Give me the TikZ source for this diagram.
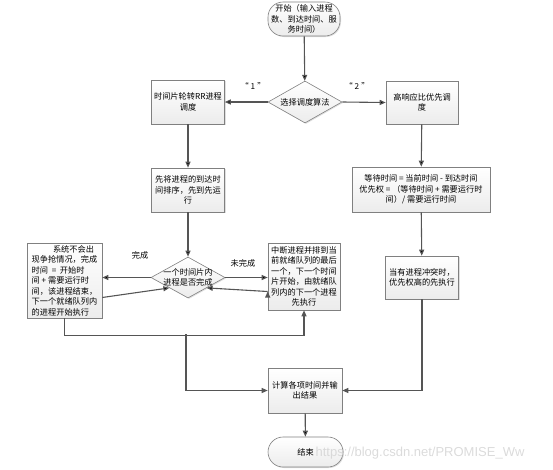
\documentclass[tikz,border=0pt]{standalone}
\usepackage{fontspec}
\newfontfamily\cjk{Noto Sans CJK SC}
\newfontfamily\wmfont{Liberation Sans}
\usetikzlibrary{arrows.meta, shapes.geometric, shadows, calc}

\definecolor{linegray}{HTML}{555555}
\definecolor{boxgray}{HTML}{808080}

\begin{document}
\begin{tikzpicture}[
  x=1pt, y=-1pt,
  >={Triangle[length=6pt,width=5pt]},
% 1. Shaded boxes with a thin gray border
  proc/.style={
    draw=boxgray,
    line width=0.6pt,
    top color=white,
    bottom color=gray!15,
    drop shadow={opacity=0.25, shadow xshift=1pt, shadow yshift=-1pt},
    font=\cjk\fontsize{8.2}{10.5}\selectfont,
    align=center,
    inner sep=2pt
  },
% 2. Start and end terminals
  term/.style={
    proc,
    rounded corners=15pt
  },
% 3. Fixed size diamonds, text is set on top
  decision/.style={
    proc,
    diamond,
    inner sep=0pt
  },
  dtext/.style={
    font=\cjk\fontsize{8.2}{10.5}\selectfont,
    align=center
  },
% 4. Connectors and their labels
  line/.style={
    draw=linegray,
    line width=1.1pt
  },
  label_font/.style={
    font=\cjk\fontsize{8.2}{10}\selectfont
  },
  wm/.style={
    font=\wmfont\fontsize{13}{13}\selectfont,
    text=gray!35,
    opacity=0.8
  }
]
  \useasboundingbox (0,0) rectangle (553,469);

  % Top: start and choice of algorithm
  \node[term, minimum width=72pt, minimum height=34pt] (start) at (304,19)
    {开始（输入进程\\数、到达时间、服\\务时间）};
  \node[decision, minimum width=74pt, minimum height=42pt] (alg) at (305,102) {};
  \node[dtext] (alg-t) at (alg) {选择调度算法};

  % Left branch: round robin
  \node[proc, minimum width=73pt, minimum height=44pt] (rr) at (188,102)
    {时间片轮转RR进程\\调度};
  \node[proc, minimum width=73pt, minimum height=44pt] (fcfs) at (188,190)
    {先将进程的到达时\\间排序，先到先运\\行};
  \node[decision, minimum width=74pt, minimum height=41pt] (chk) at (188,277.5) {};
  \node[dtext] (chk-t) at (chk) {一个时间片内\\进程是否完成};
  \node[proc, minimum width=75pt, minimum height=73pt, align=left] (done) at (64.5,280.5)
    {\hspace*{2.6em}系统不会出\\现争抢情况，完成\\时间 \ = \ 开始时\\间 + 需要运行时\\间，该进程结束，\\下一个就绪队列内\\的进程开始执行};
  \node[proc, minimum width=72pt, minimum height=67pt] (intr) at (304,276.5)
    {中断进程并排到当\\前就绪队列的最后\\一个，下一个时间\\片开始，由就绪队\\列内的下一个进程\\先执行};

  % Right branch: highest response ratio next
  \node[proc, minimum width=72pt, minimum height=43pt] (hrrn) at (422,102.5)
    {高响应比优先调\\度};
  \node[proc, minimum width=138pt, minimum height=45pt] (prio) at (421,189.5)
    {等待时间 = 当前时间 - 到达时间\\优先权 = （等待时间 + 需要运行时\\间）/ 需要运行时间};
  \node[proc, minimum width=73pt, minimum height=43pt] (conf) at (422,277.5)
    {当有进程冲突时，\\优先权高的先执行};

  % Bottom: results and end
  \node[proc, minimum width=74pt, minimum height=45pt] (calc) at (305,390.5)
    {计算各项时间并输\\出结果};
  \node[term, minimum width=75pt, minimum height=30pt] (end) at (305.5,452) {结束};

  % Edge labels
  \node[label_font] (l1) at (253,86) {“\hspace{2pt}1\hspace{2pt}”};
  \node[label_font] (l2) at (357,86) {“\hspace{2pt}2\hspace{2pt}”};
  \node[label_font] (l-done) at (140,255) {完成};
  \node[label_font] (l-ndone) at (243,263) {未完成};

  % Edges
  \path[->, line]
  (start) edge (alg)
  (alg.west) edge (rr.east)
  (alg.east) edge (hrrn.west)
  (rr) edge (fcfs)
  (fcfs) edge (chk)
  (hrrn) edge (prio)
  (prio) edge (conf)
  (calc) edge (end)

  % Done / not done inside one time slice
  (chk.west) edge (chk.west -| done.east)
  ($(done.east)+(0,17)$) edge (chk.south west)
  (chk.east) edge (chk.east -| intr.west)
  ($(intr.west)+(0,15)$) edge (chk.south east);

  % Collecting lines at the bottom
  \coordinate (j1) at (186,334);
  \draw[->, line] (done.south) -- ++(0,17) -| (intr.south);
  \draw[->, line] (j1) |- (calc.west);
  \draw[->, line] (conf.south) |- (calc.east);

  \node[wm] (wmark) at (420,453) {https://blog.csdn.net/PROMISE\_Ww};
\end{tikzpicture}
\end{document}
